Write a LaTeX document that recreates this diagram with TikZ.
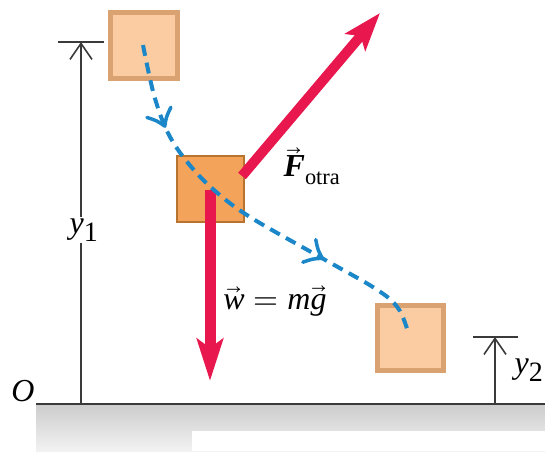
\documentclass[tikz,border=0pt]{standalone}
\usepackage{amsmath}
\usepackage{fontspec}
\usepackage{unicode-math}
\setmainfont{Liberation Serif}
\setmathfont{Latin Modern Math}
\usetikzlibrary{arrows.meta,decorations.markings}
\definecolor{forcered}{HTML}{E8174E}
\definecolor{pathblue}{HTML}{1B87C9}
\definecolor{lightfill}{HTML}{FBCBA1}
\definecolor{lightedge}{HTML}{DBA271}
\definecolor{midfill}{HTML}{F4A35B}
\definecolor{midedge}{HTML}{B8742F}
\definecolor{dimgray}{HTML}{3A3A3A}
\definecolor{groundtop}{HTML}{CDCDCD}
\definecolor{groundbot}{HTML}{F2F2F2}
\begin{document}
\begin{tikzpicture}[x=1pt,y=-1pt,
  every node/.style={font=\fontsize{32}{34}\selectfont, inner sep=0pt},
  ghostbox/.style={draw=lightedge, fill=lightfill, line width=5pt},
  realbox/.style={draw=midedge, fill=midfill, line width=1.5pt},
  force/.style={draw=forcered, line width=10pt},
  dimline/.style={draw=dimgray, line width=1.6pt},
  traj/.style={draw=pathblue, line width=4pt, dash pattern=on 11pt off 7pt},
  chev/.style={draw=pathblue, solid, line width=3.5pt, line cap=round, line join=round}
]
\useasboundingbox (0,0) rectangle (545,451);

% ground
\shade[top color=groundtop, bottom color=groundbot] (36,405) rectangle (545,451);
\fill[white] (192,431) rectangle (545,451);
\draw[dimline, line width=2pt] (36,404) -- (545,404);

% boxes
\node[ghostbox, minimum width=67pt, minimum height=66pt] (b1) at (144,45.5) {};
\node[realbox, minimum width=67pt, minimum height=66pt] (b2) at (210.5,189) {};
\node[ghostbox, minimum width=66pt, minimum height=65pt] (b3) at (410.5,338) {};

% forces
\coordinate (fstart) at (242,176);
\coordinate (ftip) at (380,13);
\draw[force, -{Stealth[length=38pt,width=26pt,inset=8pt]}] (fstart) -- (ftip);
\coordinate (wstart) at (210,190);
\coordinate (wtip) at (210,381);
\draw[force, line width=11pt, -{Stealth[length=42pt,width=26pt,inset=9pt]}] (wstart) -- (wtip);

% trajectory
\draw[traj, decoration={markings,
    mark=at position 0.2 with {\draw[chev] (-13pt,13pt) .. controls (-6pt,5pt) .. (2pt,0pt) .. controls (-6pt,-5pt) .. (-13pt,-13pt);},
    mark=at position 0.71 with {\draw[chev] (-13pt,13pt) .. controls (-6pt,5pt) .. (2pt,0pt) .. controls (-6pt,-5pt) .. (-13pt,-13pt);}},
    postaction={decorate}]
  plot[smooth, tension=0.6] coordinates {(143,45) (154,95) (168,133) (188,163) (214,190) (250,217) (320,257) (376,289) (398,308) (408,332)};

% dimension y1
\coordinate (y1base) at (81,404);
\coordinate (y1top) at (81,42);
\draw[dimline] (58,42) -- (104,42);
\draw[dimline, -{Straight Barb[length=16pt,width=22pt]}] (y1base) -- (y1top);
\node[fill=white, inner sep=2pt] (ly1) at (84,230) {\textit{y}\textsubscript{\fontsize{28}{30}\selectfont 1}};

% dimension y2
\coordinate (y2base) at (495,404);
\coordinate (y2top) at (495,337);
\draw[dimline] (473,337) -- (518,337);
\draw[dimline, -{Straight Barb[length=16pt,width=22pt]}] (y2base) -- (y2top);
\node (ly2) at (529,370) {\textit{y}\textsubscript{\fontsize{28}{30}\selectfont 2}};

% labels
\node (lo) at (23,391) {\textit{O}};
\node (lf) at (312,166) {$\vec{\mbox{\bfseries\itshape F}}_{\text{otra}}$};
\node (lw) at (275,301) {$\vec{\mbox{\itshape w}} = \mbox{\itshape m}\vec{\mbox{\itshape g}}$};
\end{tikzpicture}
\end{document}
